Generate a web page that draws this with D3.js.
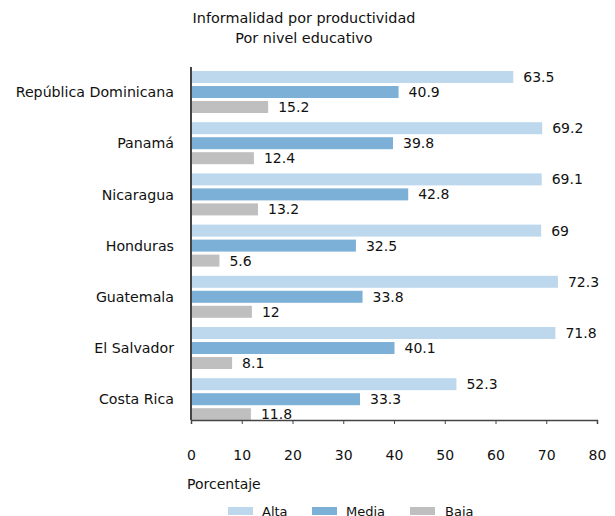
<!DOCTYPE html>
<html>
<head>
<meta charset="utf-8">
<script src="https://cdn.jsdelivr.net/npm/d3@7"></script>
<style>
  body { margin: 0; background: #fff; }
  text { font-family: "DejaVu Sans", "Liberation Sans", Arial, sans-serif; fill: #111; }
</style>
</head>
<body>
<svg id="chart" width="615" height="516"></svg>
<script>
var categories = ["República Dominicana", "Panamá", "Nicaragua", "Honduras", "Guatemala", "El Salvador", "Costa Rica"];
var series = ["Alta", "Media", "Baja"];
var alta = [63.5, 69.2, 69.1, 69, 72.3, 71.8, 52.3];
var media = [40.9, 39.8, 42.8, 32.5, 33.8, 40.1, 33.3];
var baja = [15.2, 12.4, 13.2, 5.6, 12, 8.1, 11.8];
var xTicks = [0, 10, 20, 30, 40, 50, 60, 70, 80];
var colors = ["#bdd7ec", "#7db0d6", "#bfbfbf"];

var values = [alta, media, baja];
var svg = d3.select("#chart");

var x = d3.scaleLinear().domain([0, 80]).range([191, 597]);
var y0 = d3.scaleBand().domain(categories).range([71, 71 + 7 * 51.2]);
var y1 = d3.scaleBand().domain(series).range([0, 42]).paddingInner(0.2);
var color = d3.scaleOrdinal().domain(series).range(colors);

// title
svg.append("text").attr("x", 304).attr("y", 23).attr("text-anchor", "middle")
	.style("font-size", "14.4px").text("Informalidad por productividad");
svg.append("text").attr("x", 304).attr("y", 43).attr("text-anchor", "middle")
	.style("font-size", "14.4px").text("Por nivel educativo");

// bars
categories.forEach(function (c, i) {
	var g = svg.append("g").attr("transform", "translate(0," + y0(c) + ")");
	series.forEach(function (s, j) {
		var v = values[j][i];
		g.append("rect")
			.attr("x", x(0))
			.attr("y", y1(s))
			.attr("width", x(v) - x(0))
			.attr("height", y1.bandwidth())
			.attr("fill", color(s));
		g.append("text")
			.attr("x", x(v) + 10)
			.attr("y", y1(s) + y1.bandwidth() / 2)
			.attr("dy", "0.36em")
			.style("font-size", "14px")
			.text(v);
	});
	g.append("text")
		.attr("x", 174)
		.attr("y", y1("Media") + y1.bandwidth() / 2)
		.attr("dy", "0.36em")
		.attr("text-anchor", "end")
		.style("font-size", "14.2px")
		.text(c);
});

// axes
svg.append("line").attr("x1", x(0)).attr("x2", x(0)).attr("y1", 67).attr("y2", 420)
	.attr("stroke", "#444").attr("stroke-width", 2);
var xAxis = d3.axisBottom(x).tickValues(xTicks).tickSize(4).tickPadding(26);
var ax = svg.append("g").attr("transform", "translate(0,420)").call(xAxis);
ax.select(".domain").attr("stroke", "#444").attr("stroke-width", 1.5);
ax.selectAll(".tick line").attr("stroke", "#444");
ax.selectAll(".tick text").style("font-size", "14px")
	.style("font-family", "'DejaVu Sans', 'Liberation Sans', Arial, sans-serif").attr("fill", "#111");

svg.append("text").attr("x", 187).attr("y", 489).style("font-size", "14px").text("Porcentaje");

// legend
var legX = [228, 312, 410];
var legT = [262, 346, 445];
series.forEach(function (s, j) {
	svg.append("rect").attr("x", legX[j]).attr("y", 507).attr("width", 25).attr("height", 8)
		.attr("fill", color(s));
	svg.append("text").attr("x", legT[j]).attr("y", 515.5).style("font-size", "13px").text(s);
});
</script>
</body>
</html>
